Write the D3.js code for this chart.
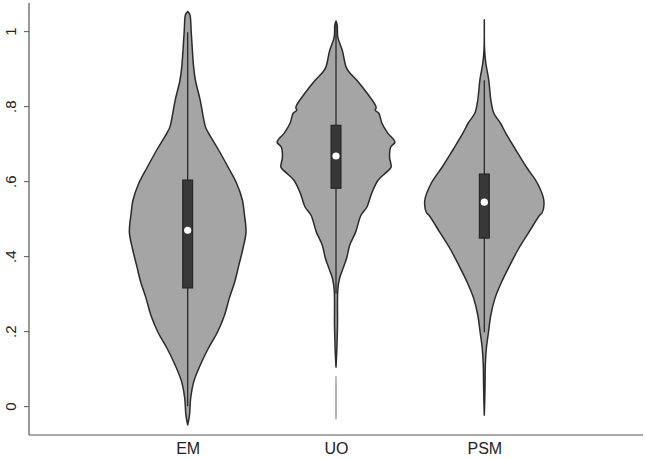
<!DOCTYPE html>
<html>
<head>
<meta charset="utf-8">
<script src="https://cdn.jsdelivr.net/npm/d3@7"></script>
<style>
  html, body { margin: 0; padding: 0; background: #fff; }
  svg { display: block; }
  text { font-family: "Liberation Sans", Arial, sans-serif; fill: #222; }
</style>
</head>
<body>
<svg id="chart" width="645" height="458"></svg>
<script>
// ---- data ----
const categories = ["EM", "UO", "PSM"];
const yTickValues = [0, 0.2, 0.4, 0.6, 0.8, 1];
const yTickLabels = ["0", ".2", ".4", ".6", ".8", "1"];

// density profiles: value grid and relative density (max = 1)
const emValues = [1.052, 1.045, 0.995, 0.904, 0.869, 0.816, 0.744, 0.728, 0.683, 0.637, 0.595, 0.549, 0.515, 0.464, 0.421, 0.376, 0.331, 0.288, 0.243, 0.197, 0.155, 0.109, 0.064, 0.021, -0.024, -0.05];
const emDensity = [0, 0.035, 0.06, 0.10, 0.13, 0.21, 0.30, 0.35, 0.52, 0.68, 0.82, 0.92, 0.95, 0.98, 0.93, 0.86, 0.79, 0.70, 0.62, 0.50, 0.35, 0.21, 0.10, 0.05, 0.03, 0];

const uoValues = [1.027, 1.016, 0.984, 0.949, 0.904, 0.891, 0.869, 0.835, 0.797, 0.789, 0.781, 0.755, 0.728, 0.704, 0.691, 0.664, 0.637, 0.624, 0.603, 0.568, 0.531, 0.509, 0.464, 0.429, 0.395, 0.368, 0.341, 0.309, 0.216, 0.155, 0.104, 0.08, 0.056, 0.0, -0.03, -0.035];
const uoDensity = [0, 0.02, 0.03, 0.105, 0.17, 0.22, 0.35, 0.52, 0.675, 0.66, 0.72, 0.77, 0.87, 0.99, 0.92, 0.90, 0.925, 0.85, 0.71, 0.60, 0.52, 0.42, 0.33, 0.23, 0.18, 0.12, 0.06, 0.03, 0.025, 0.015, 0, 0, 0.004, 0.004, 0.004, 0];

const psmValues = [1.03, 0.95, 0.915, 0.869, 0.816, 0.781, 0.755, 0.728, 0.683, 0.637, 0.595, 0.549, 0.515, 0.509, 0.464, 0.421, 0.376, 0.331, 0.288, 0.243, 0.197, 0.155, 0.109, 0.064, 0.021, -0.024];
const psmDensity = [0, 0.005, 0.025, 0.075, 0.11, 0.16, 0.27, 0.36, 0.53, 0.71, 0.89, 1.0, 0.97, 0.93, 0.75, 0.58, 0.43, 0.29, 0.18, 0.11, 0.07, 0.035, 0.017, 0.013, 0.008, 0];

// box-plot summaries per category
const whiskerLow  = [0.0,   0.30,  0.197];
const quartile1   = [0.315, 0.581, 0.448];
const medians     = [0.469, 0.667, 0.544];
const quartile3   = [0.603, 0.749, 0.619];
const whiskerHigh = [0.997, 1.02,  0.869];

const profiles = [
  emValues.map((v, i) => ({ v, d: emDensity[i] })),
  uoValues.map((v, i) => ({ v, d: uoDensity[i] })),
  psmValues.map((v, i) => ({ v, d: psmDensity[i] }))
];

// ---- layout ----
const svg = d3.select("#chart");
const plotLeft = 29, plotRight = 643, plotTop = 3, plotBottom = 435;

const y = d3.scaleLinear().domain([-0.077, 1.075]).range([plotBottom, plotTop]);
const x = d3.scalePoint().domain(categories).range([plotLeft, plotRight]).padding(1.07);
const w = d3.scaleLinear().domain([0, 1]).range([0, 59.5]);

// violins
categories.forEach((c, i) => {
  const cx = x(c);
  const area = d3.area()
    .y(d => y(d.v))
    .x0(d => cx - w(d.d))
    .x1(d => cx + w(d.d))
    .curve(d3.curveCatmullRom.alpha(0.5));
  // split into segments separated by zero-density gaps
  const pts = profiles[i];
  const segs = [];
  let cur = [];
  pts.forEach((p, k) => {
    cur.push(p);
    if (p.d === 0 && k > 0) {
      if (cur.length > 1) segs.push(cur);
      cur = [p];
    }
  });
  if (cur.length > 1) segs.push(cur);
  segs.forEach(s => {
    if (s.every(p => p.d === 0)) return;
    const thin = d3.max(s, p => p.d) < 0.01;
    svg.append("path")
      .attr("d", area(s))
      .attr("fill", "#a5a5a5")
      .attr("stroke", thin ? "#999" : "#2a2a2a")
      .attr("stroke-width", thin ? 0.8 : 1.5)
      .attr("stroke-linejoin", "round");
  });

  // whisker
  svg.append("line")
    .attr("x1", cx).attr("x2", cx)
    .attr("y1", y(whiskerLow[i])).attr("y2", y(whiskerHigh[i]))
    .attr("stroke", "#1e1e1e").attr("stroke-width", 1.2);
  // box
  svg.append("rect")
    .attr("x", cx - 5).attr("width", 10)
    .attr("y", y(quartile3[i]))
    .attr("height", y(quartile1[i]) - y(quartile3[i]))
    .attr("fill", "#383838").attr("stroke", "#1e1e1e").attr("stroke-width", 1);
  // median
  svg.append("circle")
    .attr("cx", cx).attr("cy", y(medians[i])).attr("r", 3.6)
    .attr("fill", "#ffffff");
});

// y axis
const yAxis = d3.axisLeft(y)
  .tickValues(yTickValues)
  .tickFormat((d, i) => yTickLabels[i])
  .tickSize(5)
  .tickPadding(8);
const gy = svg.append("g").attr("transform", `translate(${plotLeft},0)`).call(yAxis);
gy.select(".domain").remove();
gy.selectAll(".tick line").attr("stroke", "#555");
gy.selectAll(".tick text")
  .attr("font-size", 15)
  .attr("x", null).attr("dy", null)
  .attr("text-anchor", "middle")
  .attr("transform", "translate(-13,0) rotate(-90)")
  .attr("fill", "#222");

// axis lines
svg.append("line").attr("x1", plotLeft).attr("x2", plotLeft).attr("y1", plotTop).attr("y2", plotBottom)
  .attr("stroke", "#555").attr("stroke-width", 1.2);
svg.append("line").attr("x1", plotLeft).attr("x2", plotRight).attr("y1", plotBottom).attr("y2", plotBottom)
  .attr("stroke", "#555").attr("stroke-width", 1.2);

// x category labels
const xAxis = d3.axisBottom(x).tickSize(0).tickPadding(8);
const gx = svg.append("g").attr("transform", `translate(0,${plotBottom})`).call(xAxis);
gx.select(".domain").remove();
gx.selectAll(".tick text").attr("font-size", 16).attr("fill", "#222");
</script>
</body>
</html>
